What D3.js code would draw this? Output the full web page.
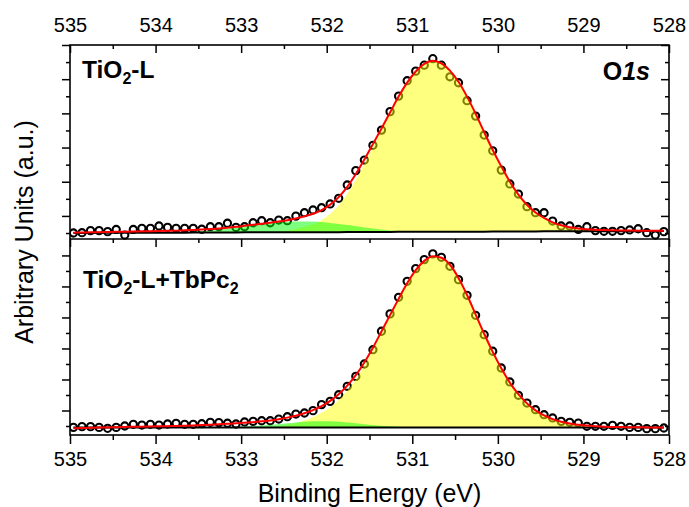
<!DOCTYPE html>
<html>
<head>
<meta charset="utf-8">
<script src="https://cdn.jsdelivr.net/npm/d3@7"></script>
<style>
  body { margin: 0; background: #fff; }
  text { font-family: "Liberation Sans", Arial, sans-serif; }
</style>
</head>
<body>
<div id="visualization"></div>
<script>
// binding energies of the measured points (eV)
const energy = [
  534.96, 534.86, 534.76, 534.66, 534.56, 534.46, 534.36, 534.26, 534.16, 534.06,
  533.96, 533.86, 533.76, 533.66, 533.56, 533.46, 533.36, 533.26, 533.16, 533.06,
  532.96, 532.86, 532.76, 532.66, 532.56, 532.46, 532.36, 532.26, 532.16, 532.06,
  531.96, 531.86, 531.76, 531.66, 531.56, 531.46, 531.36, 531.26, 531.16, 531.06,
  530.96, 530.86, 530.76, 530.66, 530.56, 530.46, 530.36, 530.26, 530.16, 530.06,
  529.96, 529.86, 529.76, 529.66, 529.56, 529.46, 529.36, 529.26, 529.16, 529.06,
  528.96, 528.86, 528.76, 528.66, 528.56, 528.46, 528.36, 528.26, 528.16, 528.06
];

// TiO2-L panel
const topData = [
  0.00, 0.02, 0.14, 0.14, 0.08, 0.21, -0.12, 0.21, 0.27, 0.27,
  0.41, 0.33, 0.27, 0.27, 0.27, 0.22, 0.37, 0.37, 0.57, 0.33,
  0.37, 0.60, 0.72, 0.60, 0.76, 0.72, 0.99, 1.19, 1.35, 1.48,
  1.70, 2.03, 2.81, 3.65, 4.27, 5.13, 6.02, 7.10, 8.01, 8.91,
  9.47, 9.82, 10.20, 9.82, 9.14, 8.79, 7.74, 6.84, 5.73, 4.81,
  3.68, 2.87, 2.28, 1.54, 1.19, 1.19, 0.70, 0.41, 0.41, 0.21,
  0.37, 0.14, 0.10, 0.10, 0.14, 0.18, 0.25, 0.02, -0.12, 0.08
];
const topFit = [
  0.02, 0.03, 0.04, 0.05, 0.06, 0.07, 0.08, 0.09, 0.10, 0.11,
  0.12, 0.13, 0.14, 0.16, 0.18, 0.20, 0.23, 0.27, 0.31, 0.36,
  0.42, 0.48, 0.54, 0.60, 0.67, 0.75, 0.85, 0.98, 1.13, 1.34,
  1.66, 2.10, 2.70, 3.45, 4.30, 5.20, 6.12, 7.05, 7.98, 8.80,
  9.45, 9.90, 10.08, 9.92, 9.50, 8.85, 7.98, 6.98, 5.90, 4.86,
  3.90, 3.00, 2.25, 1.65, 1.20, 0.88, 0.62, 0.45, 0.34, 0.27,
  0.22, 0.19, 0.17, 0.16, 0.15, 0.15, 0.14, 0.14, 0.14, 0.14
];
const topMain = [
  0, 0, 0, 0, 0, 0, 0, 0, 0, 0,
  0, 0, 0, 0, 0, 0, 0, 0, 0, 0,
  0, 0, 0.01, 0.02, 0.04, 0.09, 0.18, 0.31, 0.46, 0.70,
  1.07, 1.57, 2.24, 3.05, 3.98, 4.96, 5.94, 6.90, 7.85, 8.70,
  9.36, 9.82, 10.01, 9.84, 9.42, 8.77, 7.90, 6.90, 5.81, 4.77,
  3.81, 2.91, 2.16, 1.55, 1.10, 0.78, 0.52, 0.35, 0.24, 0.16,
  0.11, 0.08, 0.06, 0.05, 0.04, 0.03, 0.03, 0.02, 0.02, 0.02
];
const topSide = [
  0, 0, 0, 0, 0, 0, 0, 0, 0, 0,
  0, 0, 0, 0.02, 0.04, 0.07, 0.11, 0.16, 0.22, 0.29,
  0.36, 0.43, 0.50, 0.55, 0.59, 0.62, 0.63, 0.63, 0.62, 0.59,
  0.54, 0.48, 0.41, 0.34, 0.27, 0.20, 0.14, 0.09, 0.06, 0.03,
  0.02, 0.01, 0, 0, 0, 0, 0, 0, 0, 0,
  0, 0, 0, 0, 0, 0, 0, 0, 0, 0,
  0, 0, 0, 0, 0, 0, 0, 0, 0, 0
];
const topBg = [
  0.00, 0.00, 0.00, 0.01, 0.01, 0.01, 0.01, 0.01, 0.02, 0.02,
  0.02, 0.02, 0.02, 0.02, 0.03, 0.03, 0.03, 0.03, 0.03, 0.03,
  0.04, 0.04, 0.04, 0.04, 0.04, 0.04, 0.05, 0.05, 0.05, 0.05,
  0.05, 0.05, 0.06, 0.06, 0.06, 0.06, 0.06, 0.06, 0.07, 0.07,
  0.07, 0.07, 0.07, 0.08, 0.08, 0.08, 0.08, 0.08, 0.08, 0.09,
  0.09, 0.09, 0.09, 0.09, 0.09, 0.10, 0.10, 0.10, 0.10, 0.10,
  0.10, 0.11, 0.11, 0.11, 0.11, 0.11, 0.11, 0.12, 0.12, 0.12
];

// TiO2-L+TbPc2 panel
const botData = [
  -0.09, -0.04, -0.04, -0.09, -0.15, -0.09, 0.00, 0.11, 0.06, 0.11,
  0.06, 0.13, 0.17, 0.11, 0.11, 0.15, 0.24, 0.22, 0.18, 0.13,
  0.26, 0.30, 0.34, 0.34, 0.45, 0.60, 0.77, 0.84, 0.99, 1.38,
  1.59, 2.02, 2.56, 3.20, 4.00, 4.92, 6.11, 7.23, 8.30, 9.33,
  10.15, 10.73, 11.10, 10.88, 10.30, 9.44, 8.43, 7.14, 5.89, 4.82,
  3.74, 2.84, 1.98, 1.48, 1.05, 0.73, 0.52, 0.30, 0.24, 0.19,
  -0.02, -0.02, -0.02, 0.04, -0.02, -0.09, -0.09, -0.17, -0.17, -0.13
];
const botFit = [
  -0.15, -0.13, -0.12, -0.10, -0.09, -0.08, -0.06, -0.05, -0.04, -0.03,
  -0.02, -0.01, 0.00, 0.02, 0.04, 0.06, 0.08, 0.11, 0.14, 0.17,
  0.21, 0.25, 0.30, 0.36, 0.44, 0.54, 0.66, 0.82, 1.02, 1.28,
  1.62, 2.05, 2.60, 3.28, 4.10, 5.05, 6.10, 7.15, 8.20, 9.20,
  10.05, 10.65, 10.95, 10.85, 10.40, 9.55, 8.45, 7.20, 5.95, 4.78,
  3.72, 2.80, 2.05, 1.46, 1.01, 0.68, 0.44, 0.27, 0.16, 0.08,
  0.03, -0.01, -0.04, -0.06, -0.07, -0.08, -0.08, -0.09, -0.09, -0.09
];
const botMain = [
  0, 0, 0, 0, 0, 0, 0, 0, 0, 0,
  0, 0, 0, 0, 0, 0, 0, 0, 0, 0,
  0.01, 0.02, 0.03, 0.06, 0.10, 0.18, 0.28, 0.45, 0.68, 0.95,
  1.30, 1.78, 2.37, 3.10, 3.98, 4.98, 6.08, 7.17, 8.25, 9.27,
  10.13, 10.74, 11.05, 10.95, 10.50, 9.65, 8.55, 7.30, 6.05, 4.88,
  3.82, 2.90, 2.15, 1.56, 1.11, 0.78, 0.54, 0.37, 0.26, 0.18,
  0.13, 0.09, 0.06, 0.04, 0.03, 0.02, 0.02, 0.01, 0.01, 0.01
];
const botSide = [
  0, 0, 0, 0, 0, 0, 0, 0, 0, 0,
  0, 0, 0, 0, 0, 0, 0.01, 0.02, 0.03, 0.05,
  0.07, 0.10, 0.14, 0.18, 0.23, 0.28, 0.33, 0.37, 0.40, 0.41,
  0.40, 0.37, 0.33, 0.28, 0.22, 0.17, 0.12, 0.08, 0.05, 0.03,
  0.02, 0.01, 0, 0, 0, 0, 0, 0, 0, 0,
  0, 0, 0, 0, 0, 0, 0, 0, 0, 0,
  0, 0, 0, 0, 0, 0, 0, 0, 0, 0
];
const botBg = [
  -0.10, -0.10, -0.10, -0.10, -0.10, -0.10, -0.10, -0.10, -0.10, -0.10,
  -0.10, -0.10, -0.10, -0.10, -0.10, -0.10, -0.10, -0.10, -0.10, -0.10,
  -0.10, -0.10, -0.10, -0.10, -0.10, -0.10, -0.10, -0.10, -0.10, -0.10,
  -0.10, -0.10, -0.10, -0.10, -0.10, -0.10, -0.10, -0.10, -0.10, -0.10,
  -0.10, -0.10, -0.10, -0.10, -0.10, -0.10, -0.10, -0.10, -0.10, -0.10,
  -0.10, -0.10, -0.10, -0.10, -0.10, -0.10, -0.10, -0.10, -0.10, -0.10,
  -0.10, -0.10, -0.10, -0.10, -0.10, -0.10, -0.10, -0.10, -0.10, -0.10
];

// tick values
const xMajor = [535, 534, 533, 532, 531, 530, 529, 528];
const xMinor = [534.5, 533.5, 532.5, 531.5, 530.5, 529.5, 528.5];
const yMajor = [1, 3, 5, 7, 9, 11];
const yMinor = [0, 2, 4, 6, 8, 10];

document.addEventListener('DOMContentLoaded', function() {
    const margin = { top: 45, right: 20, bottom: 72, left: 70 };
    const width = 689 - margin.left - margin.right;
    const height = 507 - margin.top - margin.bottom;
    const split = 194; // height of the upper panel

    const svg = d3.select('#visualization')
        .append('svg')
        .attr('width', 689)
        .attr('height', 507)
        .append('g')
        .attr('transform', `translate(${margin.left},${margin.top})`);

    svg.append('clipPath')
        .attr('id', 'plot-clip')
        .append('rect')
        .attr('width', width)
        .attr('height', height);

    const xScale = d3.scaleLinear()
        .domain([535, 528])
        .range([0, width]);

    const panels = [
        { name: 'top', data: topData, fit: topFit, main: topMain, side: topSide, bg: topBg,
          y: d3.scaleLinear().domain([-0.35, 11]).range([split, 0]) },
        { name: 'bottom', data: botData, fit: botFit, main: botMain, side: botSide, bg: botBg,
          y: d3.scaleLinear().domain([-0.58, 12.06]).range([height, split]) }
    ];

    const plot = svg.append('g').attr('clip-path', 'url(#plot-clip)');

    panels.forEach(p => {
        const pts = energy.map((e, i) => ({ e: e, v: p.data[i], fit: p.fit[i],
            main: p.main[i], side: p.side[i], bg: p.bg[i] }));

        // measured points
        plot.selectAll('.pt-' + p.name)
            .data(pts)
            .enter()
            .append('circle')
            .attr('class', 'pt-' + p.name)
            .attr('cx', d => xScale(d.e))
            .attr('cy', d => p.y(d.v))
            .attr('r', 3.6)
            .attr('fill', 'none')
            .attr('stroke', '#000')
            .attr('stroke-width', 2.1);

        const mainArea = d3.area()
            .x(d => xScale(d.e))
            .y0(d => p.y(d.bg))
            .y1(d => p.y(d.bg + d.main))
            .curve(d3.curveMonotoneX);

        const sideArea = d3.area()
            .x(d => xScale(d.e))
            .y0(d => p.y(d.bg))
            .y1(d => p.y(d.bg + d.side))
            .curve(d3.curveMonotoneX);

        plot.append('path')
            .datum(pts)
            .attr('d', mainArea)
            .attr('fill', '#ffff00')
            .attr('fill-opacity', 0.5);

        plot.append('path')
            .datum(pts)
            .attr('d', sideArea)
            .attr('fill', '#00ff00')
            .attr('fill-opacity', 0.5);

        const bgLine = d3.line()
            .x(d => xScale(d.e))
            .y(d => p.y(d.bg));

        plot.append('path')
            .datum(pts)
            .attr('d', bgLine)
            .attr('fill', 'none')
            .attr('stroke', '#000')
            .attr('stroke-width', 2);

        const fitLine = d3.line()
            .x(d => xScale(d.e))
            .y(d => p.y(d.fit))
            .curve(d3.curveMonotoneX);

        plot.append('path')
            .datum(pts)
            .attr('d', fitLine)
            .attr('fill', 'none')
            .attr('stroke', '#ff0000')
            .attr('stroke-width', 2);

        // y ticks: outward on the left, inward on the right, no labels
        [[yMajor, 8], [yMinor, 4]].forEach(([vals, len]) => {
            svg.append('g')
                .attr('class', 'axis')
                .call(d3.axisLeft(p.y).tickValues(vals).tickSize(len).tickSizeOuter(0).tickFormat(''));
            svg.append('g')
                .attr('class', 'axis')
                .attr('transform', `translate(${width},0)`)
                .call(d3.axisRight(p.y).tickValues(vals).tickSize(-len).tickSizeOuter(0).tickFormat(''));
        });
    });

    // x ticks
    const topAxis = svg.append('g')
        .attr('class', 'axis')
        .call(d3.axisTop(xScale).tickValues(xMajor).tickSize(-8).tickSizeOuter(0).tickFormat(d3.format('d')));
    topAxis.selectAll('text').attr('y', -13).attr('dy', 0);
    svg.append('g')
        .attr('class', 'axis')
        .call(d3.axisTop(xScale).tickValues(xMinor).tickSize(-4).tickSizeOuter(0).tickFormat(''));

    [[xMajor, 8], [xMinor, 4]].forEach(([vals, len]) => {
        svg.append('g')
            .attr('class', 'axis')
            .attr('transform', `translate(0,${split})`)
            .call(d3.axisTop(xScale).tickValues(vals).tickSize(-len).tickSizeOuter(0).tickFormat(''));
    });

    const bottomAxis = svg.append('g')
        .attr('class', 'axis')
        .attr('transform', `translate(0,${height})`)
        .call(d3.axisBottom(xScale).tickValues(xMajor).tickSize(9).tickSizeOuter(0).tickFormat(d3.format('d')));
    bottomAxis.selectAll('text').attr('y', 31).attr('dy', 0);
    svg.append('g')
        .attr('class', 'axis')
        .attr('transform', `translate(0,${height})`)
        .call(d3.axisBottom(xScale).tickValues(xMinor).tickSize(5).tickSizeOuter(0).tickFormat(''));

    svg.selectAll('.axis .domain').remove();
    svg.selectAll('.axis line').attr('stroke', '#000').attr('stroke-width', 1.5);
    svg.selectAll('.axis text')
        .attr('fill', '#000')
        .style('font-size', '20px')
        .style('font-family', '"Liberation Sans", Arial, sans-serif');

    // frame
    svg.append('rect')
        .attr('width', width)
        .attr('height', height)
        .attr('fill', 'none')
        .attr('stroke', '#000')
        .attr('stroke-width', 1.6);
    svg.append('line')
        .attr('x1', 0).attr('x2', width)
        .attr('y1', split).attr('y2', split)
        .attr('stroke', '#000')
        .attr('stroke-width', 1.6);

    // titles
    svg.append('text')
        .attr('text-anchor', 'middle')
        .attr('x', width / 2)
        .attr('y', height + 67)
        .style('font-size', '25px')
        .text('Binding Energy (eV)');

    svg.append('text')
        .attr('text-anchor', 'middle')
        .attr('transform', 'rotate(-90)')
        .attr('x', -(height / 2 - 8))
        .attr('y', -37)
        .style('font-size', '25px')
        .text('Arbitrary Units (a.u.)');

    // panel labels
    const l1 = svg.append('text').attr('x', 12).attr('y', 33)
        .style('font-size', '24.5px').style('font-weight', 'bold');
    l1.append('tspan').text('TiO');
    l1.append('tspan').attr('dy', 6).style('font-size', '16px').text('2');
    l1.append('tspan').attr('dy', -6).text('-L');

    const l2 = svg.append('text').attr('x', 13).attr('y', 243)
        .style('font-size', '24.5px').style('font-weight', 'bold');
    l2.append('tspan').text('TiO');
    l2.append('tspan').attr('dy', 6).style('font-size', '16px').text('2');
    l2.append('tspan').attr('dy', -6).text('-L+TbPc');
    l2.append('tspan').attr('dy', 6).style('font-size', '16px').text('2');

    const l3 = svg.append('text').attr('x', 580).attr('y', 35)
        .attr('text-anchor', 'end')
        .style('font-size', '25px').style('font-weight', 'bold');
    l3.append('tspan').text('O');
    l3.append('tspan').style('font-style', 'italic').text('1s');
});
</script>
</body>
</html>
